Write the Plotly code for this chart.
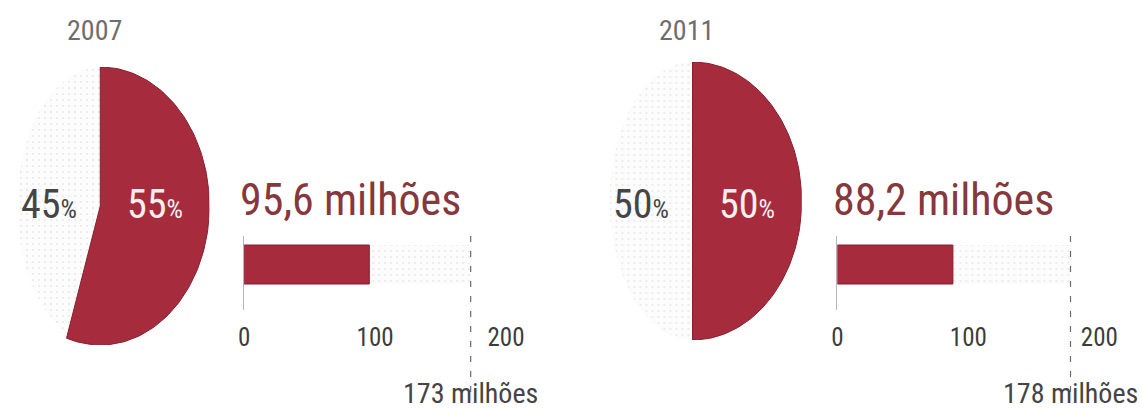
import numpy as np
import plotly.graph_objects as go

# ---- data -------------------------------------------------------------
years = ["2007", "2011"]
share_red = [55, 50]            # % share of the highlighted group
share_gray = [45, 50]           # % share of the rest
value_millions = [95.6, 88.2]   # highlighted group, millions
total_millions = [173, 178]     # population total, millions
bar_ticks = [0, 100, 200]
bar_tick_text = ["0", "100", "200"]

# ---- style ------------------------------------------------------------
W, H = 1142, 409
RED = "#a62c3d"
RED_EDGE = "#86202f"
VALUE_COLOR = "#86383d"
FONT = ("Liberation Sans Narrow, Arial Narrow, Roboto Condensed, "
        "DejaVu Sans Condensed, Liberation Sans, sans-serif")
DOTS = dict(shape=".", fgcolor="#d2d2d2", bgcolor="#fcfcfc", size=6, solidity=0.08)

# panel geometry in pixels
panels = [
    dict(cx=95, cy=206, bar0=240, year_x=89),
    dict(cx=692, cy=201, bar0=838, year_x=686),
]
RX, RY = 110, 139          # pie ellipse radii
GRAY_RX = 0.76             # rest slice is drawn a little narrower
PX_PER_UNIT = 1.32
BAR_MAX = 212
BAR_TOP, BAR_BOTTOM = 236, 310


def fx(p):
    return p / W


def fy(p):
    return 1 - p / H


def slice_xy(start_pct, end_pct, rx_scale=1.0, n=120):
    a = np.linspace(start_pct, end_pct, n) / 100 * 2 * np.pi
    xs = np.concatenate([[0], np.sin(a) * rx_scale, [0]])
    ys = np.concatenate([[0], np.cos(a), [0]])
    return xs, ys


def label(text, xref, x, y_px, size, color, **kw):
    d = dict(text=text, xref=xref, yref="paper", x=x, y=fy(y_px),
             showarrow=False, xanchor="center", yanchor="middle",
             font=dict(size=size, color=color, family=FONT))
    d.update(kw)
    return d


fig = go.Figure()
layout = dict(
    width=W, height=H, margin=dict(l=0, r=0, t=0, b=0),
    paper_bgcolor="white", plot_bgcolor="rgba(0,0,0,0)",
    showlegend=False, barmode="overlay",
    font=dict(family=FONT),
)
annotations = []
shapes = []

for i, p in enumerate(panels):
    # --- pie axes (ellipse comes from the axis aspect) ---
    pa = 2 * i + 1
    ba = 2 * i + 2
    d0 = max(0, p["cx"] - RX)
    d1 = min(W, p["cx"] + RX)
    layout[f"xaxis{pa}"] = dict(
        domain=[fx(d0), fx(d1)],
        range=[(d0 - p["cx"]) / RX, (d1 - p["cx"]) / RX],
        visible=False, fixedrange=True, anchor=f"y{pa}")
    layout[f"yaxis{pa}"] = dict(
        domain=[fy(p["cy"] + RY), fy(p["cy"] - RY)],
        range=[-1, 1], visible=False, fixedrange=True,
        anchor=f"x{pa}")

    gx, gy = slice_xy(share_red[i], share_red[i] + share_gray[i], GRAY_RX)
    fig.add_trace(go.Scatter(
        x=gx, y=gy, xaxis=f"x{pa}", yaxis=f"y{pa}", mode="lines",
        fill="toself", fillcolor="#fcfcfc", fillpattern=DOTS,
        line=dict(width=0), hoverinfo="skip"))
    rx_, ry_ = slice_xy(0, share_red[i])
    fig.add_trace(go.Scatter(
        x=rx_, y=ry_, xaxis=f"x{pa}", yaxis=f"y{pa}", mode="lines",
        fill="toself", fillcolor=RED,
        line=dict(width=1, color=RED_EDGE), hoverinfo="skip"))

    # --- bar axes ---
    layout[f"xaxis{ba}"] = dict(
        domain=[fx(p["bar0"]), fx(p["bar0"] + PX_PER_UNIT * BAR_MAX)],
        range=[0, BAR_MAX], anchor=f"y{ba}",
        tickvals=bar_ticks, ticktext=bar_tick_text,
        showgrid=False, zeroline=False, showline=False, ticks="",
        ticklabelstandoff=10,
        tickfont=dict(size=25, color="#3c3c3c", family=FONT),
        fixedrange=True)
    layout[f"yaxis{ba}"] = dict(
        domain=[fy(BAR_BOTTOM), fy(BAR_TOP)],
        range=[-1.166, 0.731], anchor=f"x{ba}",
        showticklabels=False, showgrid=False, zeroline=False,
        showline=True, linecolor="#b5b5b5", linewidth=1, ticks="",
        fixedrange=True)

    fig.add_trace(go.Bar(
        x=[total_millions[i]], y=[0], orientation="h", width=1,
        xaxis=f"x{ba}", yaxis=f"y{ba}",
        marker=dict(color="#fcfcfc", pattern=DOTS, line=dict(width=0)),
        hoverinfo="skip"))
    fig.add_trace(go.Bar(
        x=[value_millions[i]], y=[0], orientation="h", width=1,
        xaxis=f"x{ba}", yaxis=f"y{ba}",
        marker=dict(color=RED, line=dict(width=1, color=RED_EDGE)),
        hoverinfo="skip"))

    # dashed marker of the total
    shapes.append(dict(
        type="line", xref=f"x{ba}", yref="paper",
        x0=total_millions[i], x1=total_millions[i],
        y0=fy(392), y1=fy(232),
        line=dict(color="#6a6a6a", width=1.2, dash="6px,9px")))

    # texts
    annotations.append(label(years[i], "paper", fx(p["year_x"]), 30, 28, "#6e6e6e"))
    pct_gray = f"{share_gray[i]}<span style='font-size:26px'>%</span>"
    pct_red = f"{share_red[i]}<span style='font-size:26px'>%</span>"
    annotations.append(label(pct_gray, f"x{pa}", -0.47, 204, 40, "#454545"))
    annotations.append(label(pct_red, f"x{pa}", 0.5, 204, 40, "#f6f0f0"))
    val_txt = f"{value_millions[i]:.1f}".replace(".", ",") + " milhões"
    annotations.append(label(val_txt, f"x{ba}", 0, 200, 44, VALUE_COLOR,
                             xanchor="left", xshift=-6))
    annotations.append(label(f"{total_millions[i]} milhões", f"x{ba}",
                             total_millions[i], 393, 28, "#444444"))

layout["annotations"] = annotations
layout["shapes"] = shapes
fig.update_layout(**layout)
fig.write_html("out.html")
